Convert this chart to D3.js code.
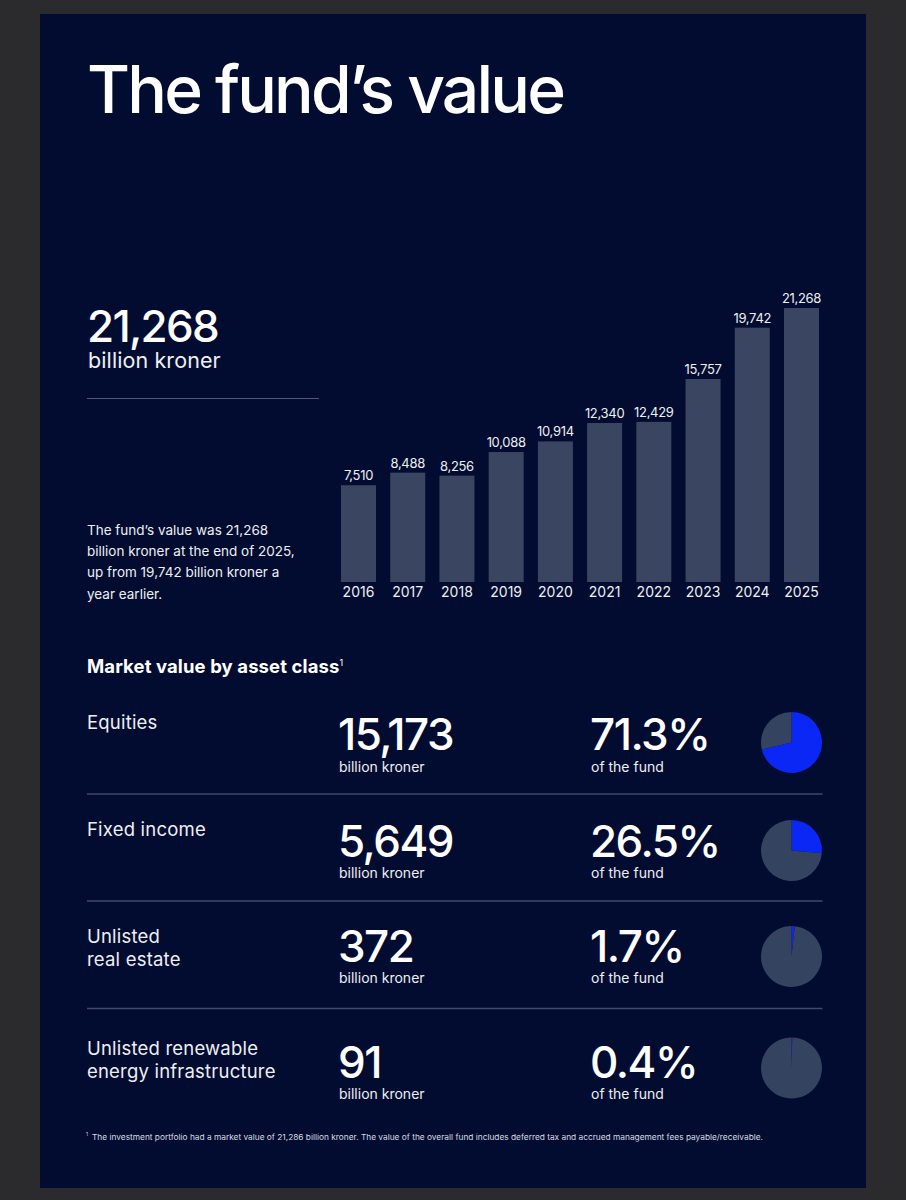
<!DOCTYPE html>
<html>
<head>
<meta charset="utf-8">
<script src="https://cdn.jsdelivr.net/npm/d3@7"></script>
<style>
  html, body { margin: 0; padding: 0; background: #2b2b2d; }
  svg { display: block; font-family: Inter, "Noto Sans", sans-serif; }
</style>
</head>
<body>
<svg id="chart" width="906" height="1200"></svg>
<script>
// fund value by year (billion kroner)
const years = ["2016", "2017", "2018", "2019", "2020", "2021", "2022", "2023", "2024", "2025"];
const fundValues = [7510, 8488, 8256, 10088, 10914, 12340, 12429, 15757, 19742, 21268];

// market value by asset class
const assetNames = [["Equities"], ["Fixed income"], ["Unlisted", "real estate"], ["Unlisted renewable", "energy infrastructure"]];
const assetValues = [15173, 5649, 372, 91];
const assetShares = [71.3, 26.5, 1.7, 0.4];

const totalValue = 21268;
const introLines = [
  "The fund\u2019s value was 21,268",
  "billion kroner at the end of 2025,",
  "up from 19,742 billion kroner a",
  "year earlier."
];
const footnote = "The investment portfolio had a market value of 21,286 billion kroner. The value of the overall fund includes deferred tax and accrued management fees payable/receivable.";

const navy = "#020c30",
      barColor = "#3a4661",
      pieGrey = "#34435f",
      pieBlue = "#0b27f5",
      ruleColor = "#3d4a68",
      txt = "#eef0f4";

const fmt = d3.format(",");
const svg = d3.select("#chart");

// panel
svg.append("rect")
  .attr("x", 40).attr("y", 14)
  .attr("width", 826).attr("height", 1174)
  .attr("fill", navy);

// title
svg.append("text")
  .attr("x", 87).attr("y", 113)
  .attr("fill", "#fff")
  .attr("font-size", 66)
  .attr("font-weight", 500)
  .attr("letter-spacing", -2.8)
  .text("The fund\u2019s value");

// headline figure
svg.append("text")
  .attr("x", 87).attr("y", 342)
  .attr("fill", "#fff")
  .attr("font-size", 44)
  .attr("font-weight", 500)
  .attr("letter-spacing", -1.7)
  .text(fmt(totalValue));
svg.append("text")
  .attr("x", 88).attr("y", 368)
  .attr("fill", txt)
  .attr("font-size", 21.5)
  .attr("letter-spacing", 0.1)
  .text("billion kroner");
svg.append("line")
  .attr("x1", 87).attr("x2", 319)
  .attr("y1", 398.5).attr("y2", 398.5)
  .attr("stroke", "#4e5b78").attr("stroke-width", 1);

svg.append("text")
  .attr("fill", txt)
  .attr("font-size", 13.5)
  .selectAll("tspan")
  .data(introLines)
  .enter()
  .append("tspan")
  .attr("x", 87)
  .attr("y", (d, i) => 535 + i * 21.2)
  .text(d => d);

// bar chart
const x = d3.scaleBand()
  .domain(years)
  .range([341, 819])
  .paddingInner(0.289)
  .paddingOuter(0);

const y = d3.scaleLinear()
  .domain([0, d3.max(fundValues)])
  .range([582, 308]);

const bars = svg.append("g");
bars.selectAll("rect")
  .data(years)
  .enter()
  .append("rect")
  .attr("x", d => x(d))
  .attr("y", (d, i) => y(fundValues[i]))
  .attr("width", x.bandwidth())
  .attr("height", (d, i) => y(0) - y(fundValues[i]))
  .attr("fill", barColor);

bars.selectAll("text")
  .data(years)
  .enter()
  .append("text")
  .attr("x", d => x(d) + x.bandwidth() / 2)
  .attr("y", (d, i) => y(fundValues[i]) - 5)
  .attr("text-anchor", "middle")
  .attr("fill", txt)
  .attr("font-size", 13)
  .attr("letter-spacing", -0.3)
  .text((d, i) => fmt(fundValues[i]));

const xAxis = svg.append("g")
  .attr("transform", "translate(0," + y(0) + ")")
  .call(d3.axisBottom(x).tickSize(0).tickPadding(5));
xAxis.select(".domain").remove();
xAxis.selectAll("text")
  .attr("fill", txt)
  .attr("font-size", 14)
  .attr("font-family", "Inter, sans-serif");

// asset class table
const head = svg.append("text")
  .attr("x", 87).attr("y", 673)
  .attr("fill", "#fff")
  .attr("font-size", 18.5)
  .attr("font-weight", 700)
  .attr("letter-spacing", 0.1)
  .text("Market value by asset class");
head.append("tspan")
  .attr("font-size", 9)
  .attr("dy", -7)
  .attr("font-weight", 400)
  .text("1");

const rowBase = [750, 856.5, 961.5, 1077.5];   // baseline of the big figures
const rules = [794, 901, 1008.5];

const pie = d3.pie().sort(null).value(d => d);
const arc = d3.arc().innerRadius(0).outerRadius(30.5);

const rows = svg.append("g").selectAll("g")
  .data(assetNames)
  .enter()
  .append("g")
  .attr("transform", (d, i) => "translate(0," + rowBase[i] + ")");

rows.append("text")
  .attr("fill", txt)
  .attr("font-size", 18.5)
  .attr("letter-spacing", 0.2)
  .each(function(d, i) {
    const top = i === 3 ? -22.5 : (i === 2 ? -19 : -21);
    d3.select(this).selectAll("tspan")
      .data(d)
      .enter()
      .append("tspan")
      .attr("x", 87)
      .attr("y", (l, j) => top + j * 23)
      .text(l => l);
  });

rows.append("text")
  .attr("x", 338).attr("y", 0)
  .attr("fill", "#fff")
  .attr("font-size", 44)
  .attr("font-weight", 500)
  .attr("letter-spacing", -1.5)
  .text((d, i) => fmt(assetValues[i]));

rows.append("text")
  .attr("x", 339).attr("y", 21.5)
  .attr("fill", txt)
  .attr("font-size", 14)
  .text("billion kroner");

rows.append("text")
  .attr("x", 590).attr("y", 0)
  .attr("fill", "#fff")
  .attr("font-size", 44)
  .attr("font-weight", 500)
  .attr("letter-spacing", -1.5)
  .text((d, i) => assetShares[i].toFixed(1) + "%");

rows.append("text")
  .attr("x", 591).attr("y", 21.5)
  .attr("fill", txt)
  .attr("font-size", 14)
  .text("of the fund");

const pieOffset = [-7.5, -6, -5, -9.5];
rows.each(function(d, i) {
  const g = d3.select(this).append("g")
    .attr("transform", "translate(791.5," + pieOffset[i] + ")");
  g.selectAll("path")
    .data(pie([assetShares[i], 100 - assetShares[i]]))
    .enter()
    .append("path")
    .attr("d", arc)
    .attr("fill", (s, k) => k === 0 ? pieBlue : pieGrey);
});

svg.append("g").selectAll("line")
  .data(rules)
  .enter()
  .append("line")
  .attr("x1", 87).attr("x2", 822.5)
  .attr("y1", d => d).attr("y2", d => d)
  .attr("stroke", ruleColor)
  .attr("stroke-width", 1.5);

// footnote
svg.append("text")
  .attr("x", 86).attr("y", 1136)
  .attr("fill", "#d8dbe3")
  .attr("font-size", 5)
  .text("1");
svg.append("text")
  .attr("x", 92).attr("y", 1140)
  .attr("fill", "#d8dbe3")
  .attr("font-size", 7.8)
  .attr("textLength", 671)
  .attr("lengthAdjust", "spacingAndGlyphs")
  .text(footnote);
</script>
</body>
</html>
